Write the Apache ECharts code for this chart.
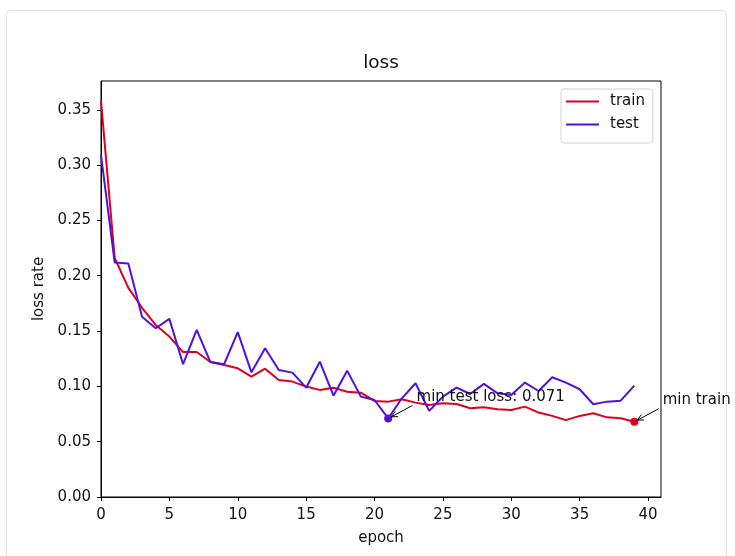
<!DOCTYPE html>
<html><head><meta charset="utf-8">
<script src="https://cdn.jsdelivr.net/npm/echarts@6/dist/echarts.min.js"></script>
<style>html,body{margin:0;padding:0;background:#fff;}#c{width:735px;height:556px;}</style>
</head><body><div id="c"></div>
<script>
// ---- data ----
const epochs = [0,1,2,3,4,5,6,7,8,9,10,11,12,13,14,15,16,17,18,19,20,21,22,23,24,25,26,27,28,29,30,31,32,33,34,35,36,37,38,39];
const trainLoss = [0.358,0.216,0.189,0.171,0.1555,0.145,0.131,0.131,0.122,0.1193,0.1163,0.1088,0.116,0.1058,0.1043,0.0998,0.0968,0.0988,0.0952,0.0943,0.0868,0.0862,0.0883,0.0853,0.0832,0.0847,0.0841,0.0802,0.0811,0.0793,0.0787,0.0817,0.0763,0.0733,0.0695,0.0733,0.0757,0.072,0.0712,0.068];
const testLoss = [0.309,0.212,0.211,0.163,0.1525,0.161,0.120,0.151,0.122,0.120,0.149,0.1127,0.1344,0.1148,0.1124,0.0988,0.1223,0.0916,0.1142,0.0907,0.0877,0.071,0.0892,0.1028,0.0778,0.0907,0.0988,0.0931,0.1022,0.0937,0.0922,0.1034,0.0958,0.1082,0.1034,0.0974,0.0838,0.0862,0.0871,0.1007];
const xTicks = [0,5,10,15,20,25,30,35,40];
const yTicks = [0,0.05,0.10,0.15,0.20,0.25,0.30,0.35];
const seriesNames = ['train','test'];
const titleText = 'loss';
const xName = 'epoch';
const yName = 'loss rate';
const testNote = 'min test loss: 0.071';
const trainNote = 'min train';

// ---- style ----
const FONT = 'DejaVu Sans';
const FS = 15;
const C_TRAIN = '#e0001c';
const C_TEST = '#5210d8';
const X_MAX = 40.95, Y_MAX = 0.376;
const NOTE_DX = 2, NOTE_DY = 0.014;

function argmin(a){let k=0;for(let i=1;i<a.length;i++) if(a[i]<a[k]) k=i;return k;}
const iTest = argmin(testLoss), iTrain = argmin(trainLoss);
const minTest = [epochs[iTest], testLoss[iTest]];
const minTrain = [epochs[iTrain], trainLoss[iTrain]];

const chart = echarts.init(document.getElementById('c'), null, {renderer:'canvas'});
const axisText = {fontFamily:FONT, fontSize:FS, color:'#111'};
chart.setOption({
  animation:false,
  backgroundColor:'#fff',
  grid:{left:101, top:81, width:560, height:416, show:true, borderColor:'#000', borderWidth:1, backgroundColor:'transparent', containLabel:false},
  legend:{
    orient:'vertical', left:561, top:89, padding:[5,8,11,5],
    itemWidth:33, itemHeight:2, itemGap:8, itemTextGap:11, icon:'rect',
    borderColor:'#d4d4d4', borderWidth:1, borderRadius:3, backgroundColor:'#fff',
    textStyle:{fontFamily:FONT, fontSize:FS, color:'#111', padding:[0,0,0,6]},
    data:seriesNames
  },
  xAxis:{
    type:'value', min:0, max:X_MAX,
    name:xName, nameLocation:'middle', nameGap:34, nameTextStyle:{fontFamily:FONT, fontSize:FS, color:'#111'},
    axisLine:{show:true, onZero:false, lineStyle:{color:'#000', width:1}},
    axisTick:{show:true, length:4, lineStyle:{color:'#000'}, customValues:xTicks},
    axisLabel:Object.assign({margin:11, customValues:xTicks, formatter:v=>String(v)}, axisText),
    splitLine:{show:false}
  },
  yAxis:{
    type:'value', min:0, max:Y_MAX,
    name:yName, nameLocation:'middle', nameGap:52, nameTextStyle:{fontFamily:FONT, fontSize:FS, color:'#111'},
    axisLine:{show:true, onZero:false, lineStyle:{color:'#000', width:1}},
    axisTick:{show:true, length:4, lineStyle:{color:'#000'}, customValues:yTicks},
    axisLabel:Object.assign({margin:10, customValues:yTicks, formatter:v=>v.toFixed(2)}, axisText),
    splitLine:{show:false}
  },
  series:[
    {name:seriesNames[0], type:'line', data:epochs.map((e,i)=>[e,trainLoss[i]]), showSymbol:false, symbol:'none',
     color:C_TRAIN, lineStyle:{color:C_TRAIN, width:2}, itemStyle:{color:C_TRAIN},
     markPoint:{symbol:'circle', symbolSize:8, label:{show:false}, itemStyle:{color:C_TRAIN}, data:[{coord:minTrain}]}},
    {name:seriesNames[1], type:'line', data:epochs.map((e,i)=>[e,testLoss[i]]), showSymbol:false, symbol:'none',
     color:C_TEST, lineStyle:{color:C_TEST, width:2}, itemStyle:{color:C_TEST},
     markPoint:{symbol:'circle', symbolSize:8, label:{show:false}, itemStyle:{color:C_TEST}, data:[{coord:minTest}]}}
  ]
});

// annotations via the grid's coordinate conversion
function note(pt, text){
  const A = chart.convertToPixel({gridIndex:0}, [pt[0]+NOTE_DX, pt[1]+NOTE_DY]);
  const P = chart.convertToPixel({gridIndex:0}, pt);
  const tail = [A[0]-3, A[1]+2.5];
  let dx = P[0]-tail[0], dy = P[1]-tail[1];
  const L = Math.hypot(dx,dy); dx/=L; dy/=L;
  const head = [P[0]-dx*3.5, P[1]-dy*3.5];
  const hl = 6, hw = 3;
  const b = [head[0]-dx*hl, head[1]-dy*hl];
  const nx = -dy, ny = dx;
  return [
    {type:'line', z:100, shape:{x1:tail[0], y1:tail[1], x2:head[0], y2:head[1]}, style:{stroke:'#000', lineWidth:1}},
    {type:'polyline', z:100, shape:{points:[[b[0]+nx*hw,b[1]+ny*hw],[head[0],head[1]],[b[0]-nx*hw,b[1]-ny*hw]]}, style:{stroke:'#000', lineWidth:1, fill:null}},
    {type:'text', z:100, x:A[0]+1, y:A[1]-6, style:{text:text, font:FS+'px "DejaVu Sans"', fill:'#111', align:'left', verticalAlign:'middle'}}
  ];
}
chart.setOption({graphic:[
  {type:'rect', z:-10, silent:true, shape:{x:6.5, y:10.5, width:720, height:600, r:4}, style:{stroke:'#e2e2e2', lineWidth:1, fill:null}},
  {type:'text', z:100, x:381, y:63, style:{text:titleText, font:'18.5px "DejaVu Sans"', fill:'#111', align:'center', verticalAlign:'middle'}},
  ...note(minTest, testNote),
  ...note(minTrain, trainNote)
]});
</script></body></html>
